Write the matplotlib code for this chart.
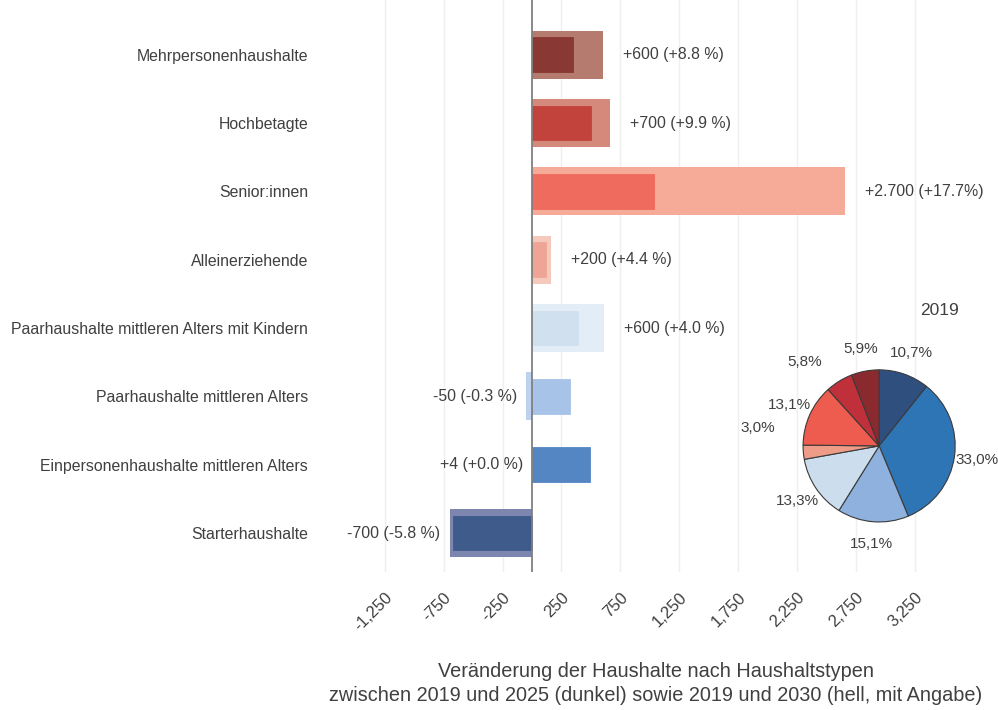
import matplotlib
matplotlib.use("Agg")
import matplotlib.pyplot as plt
import matplotlib.transforms as mtransforms

plt.rcParams['font.family'] = ['Liberation Sans', 'DejaVu Sans']

# ---------------- data ----------------
categories = ["Starterhaushalte",
              "Einpersonenhaushalte mittleren Alters",
              "Paarhaushalte mittleren Alters",
              "Paarhaushalte mittleren Alters mit Kindern",
              "Alleinerziehende",
              "Senior:innen",
              "Hochbetagte",
              "Mehrpersonenhaushalte"]
change_2025 = [-670, 490, 325, 390, 115, 1035, 500, 350]
change_2030 = [-700, 4, -50, 610, 160, 2660, 660, 600]
labels_2030 = ["-700 (-5.8 %)", "+4 (+0.0 %)", "-50 (-0.3 %)", "+600 (+4.0 %)",
               "+200 (+4.4 %)", "+2.700 (+17.7%)", "+700 (+9.9 %)", "+600 (+8.8 %)"]
xticks = [-1250, -750, -250, 250, 750, 1250, 1750, 2250, 2750, 3250]
xtick_labels = ["-1,250", "-750", "-250", "250", "750", "1,250", "1,750",
                "2,250", "2,750", "3,250"]

share_2019 = [10.7, 33.0, 15.1, 13.3, 3.0, 13.1, 5.8, 5.9]
share_labels = ["10,7%", "33,0%", "15,1%", "13,3%", "3,0%", "13,1%", "5,8%", "5,9%"]

dark_colors = ["#3F5B8C", "#5586C4", "#A7C3E7", "#D1E0EF",
               "#EEA595", "#EF6B5D", "#C1433C", "#8A3833"]
light_colors = ["#7D86AE", "#7FA4D6", "#BDD2EE", "#E3EDF7",
                "#F6C9BD", "#F6AA98", "#D5897A", "#B47B6E"]
pie_colors = ["#2F4F7F", "#2E75B6", "#8FB1DE", "#CCDDEE",
              "#EE9C88", "#EE5B4F", "#C0303A", "#8B2A2E"]

text_color = "#404040"

# ---------------- figure ----------------
fig = plt.figure(figsize=(9.98, 7.10), dpi=100)
ax = fig.add_axes([0.356, 0.1944, 0.602, 0.8056])

ypos = list(range(len(categories)))
ax.barh(ypos, change_2030, height=0.70, color=light_colors, zorder=2)
ax.barh(ypos, change_2025, height=0.51, color=dark_colors, zorder=3,
        edgecolor=[c for c in dark_colors], linewidth=0.6)
ax.axvline(0, color="#808080", lw=1.3, zorder=5)

for y, v25, v30, lab in zip(ypos, change_2025, change_2030, labels_2030):
    if v30 < v25:
        off = mtransforms.offset_copy(ax.transData, fig=fig, x=-9, y=0, units='dots')
        ax.text(min(v30, 0), y, lab, ha='right', va='center', fontsize=11.4,
                color=text_color, transform=off)
    else:
        off = mtransforms.offset_copy(ax.transData, fig=fig, x=20, y=0, units='dots')
        ax.text(v30, y, lab, ha='left', va='center', fontsize=11.4,
                color=text_color, transform=off)

ax.set_xlim(-1500, 3600)
ax.set_ylim(-0.57, 7.8)
ax.set_xticks(xticks)
ax.set_xticklabels(xtick_labels, rotation=45, ha='right', va='top',
                   rotation_mode='anchor', fontsize=12, color=text_color)
ax.set_yticks(ypos)
ax.set_yticklabels(categories, fontsize=11.4, color=text_color)
ax.tick_params(axis='x', length=0, pad=13)
ax.tick_params(axis='y', length=0, pad=34)
ax.grid(axis='x', color="#EFEFEF", lw=1, zorder=0)
ax.set_axisbelow(True)
for s in ax.spines.values():
    s.set_visible(False)
ax.set_xlabel("Veränderung der Haushalte nach Haushaltstypen\n"
              "zwischen 2019 und 2025 (dunkel) sowie 2019 und 2030 (hell, mit Angabe)",
              fontsize=14.3, color=text_color, labelpad=20, linespacing=1.35)

# ---------------- pie ----------------
pax = fig.add_axes([0.7742, 0.2220, 0.2134, 0.2999])
wedges, texts = pax.pie(share_2019, labels=share_labels, colors=pie_colors,
                        startangle=90, counterclock=False, labeldistance=1.3,
                        wedgeprops=dict(edgecolor="#3A3A3A", linewidth=0.8),
                        textprops=dict(fontsize=11, color=text_color,
                                       ha='center', va='center'))
# nudge the crowded labels as in the original layout
nudges = {4: (-0.3, 0.35), 6: (-0.3, 0.0)}
for i, (dx, dy) in nudges.items():
    x0, y0 = texts[i].get_position()
    texts[i].set_position((x0 + dx, y0 + dy))
pax.set_xlim(-1.4, 1.4)
pax.set_ylim(-1.4, 1.4)
pax.set_aspect('equal')
pax.axis('off')
pax.text(0.80, 1.78, "2019", ha='center', va='center', fontsize=12.5,
         color=text_color)

fig.savefig("out.png", dpi=100)
